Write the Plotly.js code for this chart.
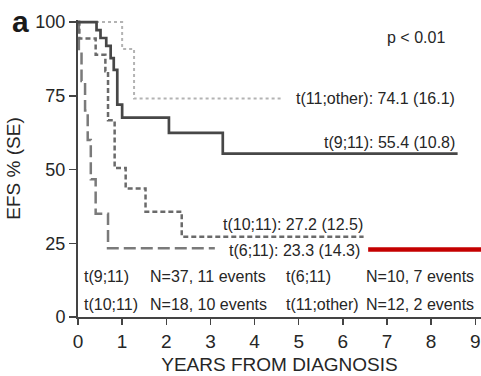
<!DOCTYPE html>
<html>
<head>
<meta charset="utf-8">
<script src="https://cdn.plot.ly/plotly-3.0.1.min.js"></script>
<style>html,body{margin:0;padding:0;background:#fff;}#chart{width:481px;height:376px;}</style>
</head>
<body>
<div id="chart"></div>
<script>
// ---- data (Kaplan-Meier step points: year of step, EFS % after step) ----
const yearsT911 = [0, 0.42, 0.51, 0.64, 0.74, 0.81, 0.89, 1.0, 2.06, 3.28, 8.6];
const efsT911   = [100, 97.3, 94.6, 91.9, 87.8, 83.8, 72.0, 67.6, 62.4, 55.4, 55.4];

const yearsT11other = [0, 1.0, 1.27, 4.65];
const efsT11other   = [100, 90.9, 74.1, 74.1];

const yearsT1011 = [0, 0.03, 0.40, 0.62, 0.68, 0.83, 1.08, 1.53, 2.35, 6.47];
const efsT1011   = [100, 94.4, 88.9, 83.3, 66.7, 50.5, 43.6, 35.7, 27.2, 27.2];

const yearsT611 = [0, 0.02, 0.08, 0.16, 0.22, 0.29, 0.40, 0.68, 3.1];
const efsT611   = [100, 90, 80, 70, 60, 46.7, 35, 23.3, 23.3];

const xTicks = [0, 1, 2, 3, 4, 5, 6, 7, 8, 9];
const yTicks = [0, 25, 50, 75, 100];

const endLabels = ["t(11;other): 74.1 (16.1)", "t(9;11): 55.4 (10.8)", "t(10;11): 27.2 (12.5)", "t(6;11): 23.3 (14.3)"];
const groupNames = ["t(9;11)", "t(10;11)", "t(6;11)", "t(11;other)"];
const groupCounts = ["N=37, 11 events", "N=18, 10 events", "N=10, 7 events", "N=12, 2 events"];

const FONT = '"Liberation Sans", Arial, Helvetica, sans-serif';
const TXT = '#262626';

function km(x, y, color, dash, width) {
  return {x: x, y: y, type: 'scatter', mode: 'lines', line: {shape: 'hv', color: color, dash: dash, width: width}, hoverinfo: 'skip', showlegend: false};
}

const traces = [
  km(yearsT11other, efsT11other, '#b3b3b3', 'dot', 2),
  km(yearsT611, efsT611, '#7a7a7a', '12px,5px', 2.5),
  km(yearsT1011, efsT1011, '#6a6a6a', '5px,3px', 2.5),
  km(yearsT911, efsT911, '#474747', 'solid', 2.7)
];

function ann(text, x, y, xanchor, size, extra) {
  return Object.assign({text: text, x: x, y: y, xref: 'x', yref: 'y', xanchor: xanchor, yanchor: 'middle', showarrow: false, font: {family: FONT, size: size, color: TXT}}, extra || {});
}

const annotations = [
  ann('p &lt; 0.01', 7.66, 94.6, 'center', 16),
  ann(endLabels[0], 8.59, 74.2, 'right', 16),
  ann(endLabels[1], 8.59, 59.0, 'right', 16),
  ann(endLabels[2], 6.50, 31.2, 'right', 16),
  ann(endLabels[3], 6.43, 22.7, 'right', 16),
  ann(groupNames[0], 0.10, 13.6, 'left', 16),
  ann(groupCounts[0], 1.58, 13.6, 'left', 16),
  ann(groupNames[1], 0.10, 4.1, 'left', 16),
  ann(groupCounts[1], 1.58, 4.1, 'left', 16),
  ann(groupNames[2], 4.67, 13.6, 'left', 16),
  ann(groupCounts[2], 6.48, 13.6, 'left', 16),
  ann(groupNames[3], 4.67, 4.1, 'left', 16),
  ann(groupCounts[3], 6.48, 4.1, 'left', 16),
  {text: '<b>a</b>', xref: 'paper', yref: 'paper', x: -0.168, y: 0.995, xanchor: 'left', yanchor: 'middle', showarrow: false, font: {family: FONT, size: 30, color: '#1a1a1a'}}
];

const layout = {
  width: 481, height: 376,
  margin: {l: 78, r: 0, t: 20, b: 59},
  paper_bgcolor: '#fff', plot_bgcolor: '#fff',
  font: {family: FONT, color: TXT},
  showlegend: false,
  xaxis: {
    range: [0, 9.13], tickvals: xTicks, ticktext: xTicks.map(String),
    ticks: 'outside', ticklen: 6, tickwidth: 1.5, tickcolor: '#444',
    ticklabeloverflow: 'allow',
    showline: true, linewidth: 2, linecolor: '#444', showgrid: false, zeroline: false,
    tickfont: {family: FONT, size: 19, color: TXT},
    title: {text: 'YEARS FROM DIAGNOSIS', font: {family: FONT, size: 19, color: TXT}, standoff: 7}
  },
  yaxis: {
    range: [0, 100.7], tickvals: yTicks, ticktext: yTicks.map(String),
    ticks: 'outside', ticklen: 7, tickwidth: 1.5, tickcolor: '#444',
    showline: true, linewidth: 2, linecolor: '#444', showgrid: false, zeroline: false,
    tickfont: {family: FONT, size: 18, color: TXT},
    title: {text: 'EFS % (SE)', font: {family: FONT, size: 19, color: TXT}, standoff: 10}
  },
  annotations: annotations,
  shapes: [
    {type: 'line', xref: 'paper', yref: 'y', x0: 0.72, x1: 1.0, y0: 22.9, y1: 22.9, line: {color: '#c40000', width: 4.5}}
  ]
};

Plotly.newPlot('chart', traces, layout, {displayModeBar: false, staticPlot: true});
</script>
</body>
</html>
